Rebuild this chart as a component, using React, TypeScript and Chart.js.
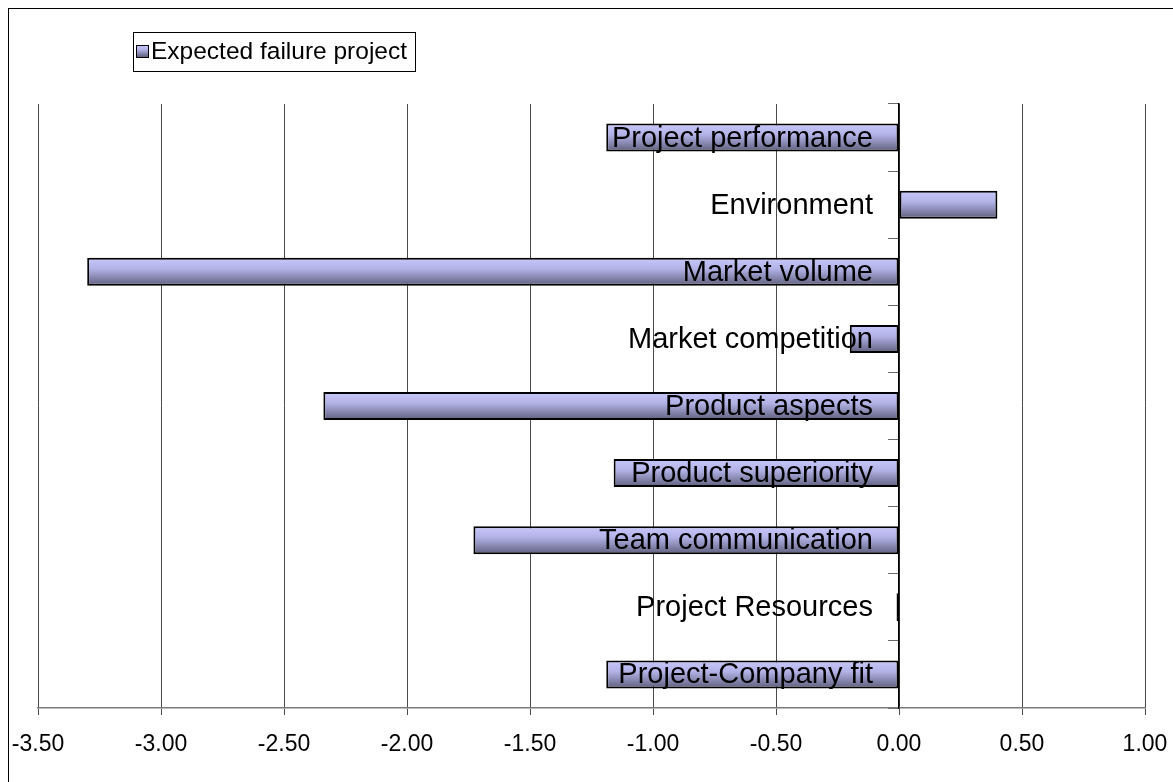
import React, { useEffect, useRef } from "react";
import { Chart, registerables } from "chart.js";

Chart.register(...registerables);

const categories = [
  "Project performance",
  "Environment",
  "Market volume",
  "Market competition",
  "Product aspects",
  "Product superiority",
  "Team communication",
  "Project Resources",
  "Project-Company fit",
];
const seriesName = "Expected failure project";
const values = [-1.19, 0.4, -3.3, -0.2, -2.34, -1.16, -1.73, -0.01, -1.19];
const xMin = -3.5;
const xMax = 1.0;
const xStep = 0.5;

const BAR_PCT = 0.417;
const FONT = "Arial, 'Liberation Sans', sans-serif";

function makeGradient(ctx: CanvasRenderingContext2D, y0: number, y1: number) {
  const g = ctx.createLinearGradient(0, y0, 0, y1);
  g.addColorStop(0, "#c8c8fc");
  g.addColorStop(0.4, "#b2b2e6");
  g.addColorStop(1, "#5e5e7c");
  return g;
}

const boxLegend = {
  id: "boxLegend",
  afterDraw(chart: any) {
    const ctx = chart.ctx as CanvasRenderingContext2D;
    ctx.save();
    ctx.strokeStyle = "#000";
    ctx.lineWidth = 1;
    ctx.strokeRect(124.5, 23.5, 282, 39);
    ctx.fillStyle = makeGradient(ctx, 36, 48);
    ctx.fillRect(127, 36, 12, 12);
    ctx.strokeStyle = "#000";
    ctx.strokeRect(127.5, 36.5, 12, 12);
    ctx.fillStyle = "#000";
    ctx.font = `24.5px ${FONT}`;
    ctx.textAlign = "left";
    ctx.textBaseline = "middle";
    ctx.fillText(seriesName, 142, 43);
    ctx.restore();
  },
};

// category names are written beside the zero line, over the bars
const categoryLabels = {
  id: "categoryLabels",
  afterDatasetsDraw(chart: any) {
    const ctx = chart.ctx as CanvasRenderingContext2D;
    const xs = chart.scales.x;
    const ys = chart.scales.y;
    const x0 = xs.getPixelForValue(0) - 26;
    ctx.save();
    ctx.fillStyle = "#000";
    ctx.font = `29px ${FONT}`;
    ctx.textAlign = "right";
    ctx.textBaseline = "middle";
    categories.forEach((name, i) => {
      ctx.fillText(name, x0, ys.getPixelForValue(i) + 1);
    });
    ctx.restore();
  },
};

export default function App() {
  const ref = useRef<HTMLCanvasElement>(null);

  useEffect(() => {
    if (!ref.current) return;
    const chart = new Chart(ref.current, {
      type: "bar",
      data: {
        labels: categories,
        datasets: [
          {
            label: seriesName,
            data: values,
            borderColor: "#000",
            borderWidth: 2,
            borderSkipped: false,
            barPercentage: BAR_PCT,
            categoryPercentage: 1,
            backgroundColor: (c: any) => {
              const chart = c.chart;
              const ys = chart.scales && chart.scales.y;
              if (!ys || c.dataIndex === undefined || !chart.chartArea) return "#aaaadd";
              const cy = ys.getPixelForValue(c.dataIndex);
              const h = ((chart.chartArea.bottom - chart.chartArea.top) / categories.length) * BAR_PCT;
              return makeGradient(chart.ctx, cy - h / 2, cy + h / 2);
            },
          },
        ],
      },
      options: {
        indexAxis: "y",
        responsive: false,
        animation: false,
        layout: { padding: { left: 29, right: 28, top: 95, bottom: 0 } },
        plugins: {
          legend: { display: false },
          tooltip: { enabled: false },
        },
        scales: {
          x: {
            type: "linear",
            min: xMin,
            max: xMax,
            position: "bottom",
            afterFit: (s: any) => {
              s.height = 74;
              s.paddingLeft = 0;
              s.paddingRight = 0;
            },
            ticks: {
              stepSize: xStep,
              color: "#000",
              font: { family: FONT, size: 23 },
              padding: 16,
              maxRotation: 0,
              callback: (v: any) => Number(v).toFixed(2),
            },
            grid: {
              color: "#4a4a4a",
              lineWidth: 1,
              tickLength: 7,
              drawTicks: true,
            },
            border: { color: "#7a7a7a", width: 1.5 },
          },
          y: {
            type: "category",
            position: { x: 0 } as any,
            offset: true,
            afterFit: (s: any) => {
              s.width = 0;
              s.paddingTop = 0;
              s.paddingBottom = 0;
              s.paddingLeft = 0;
              s.paddingRight = 0;
            },
            ticks: {
              display: false,
            },
            grid: {
              offset: true,
              drawOnChartArea: false,
              tickLength: 10,
              color: "#6a6a6a",
            },
            border: { color: "#000", width: 1.5 },
          },
        },
      },
      plugins: [categoryLabels, boxLegend],
    });
    return () => chart.destroy();
  }, []);

  return (
    <div
      style={{
        position: "fixed",
        left: 8,
        top: 8,
        width: 1165,
        height: 774,
        borderTop: "1px solid #000",
        borderLeft: "1px solid #000",
        boxSizing: "border-box",
        background: "#fff",
      }}
    >
      <canvas ref={ref} width={1164} height={773} style={{ display: "block" }} />
    </div>
  );
}
